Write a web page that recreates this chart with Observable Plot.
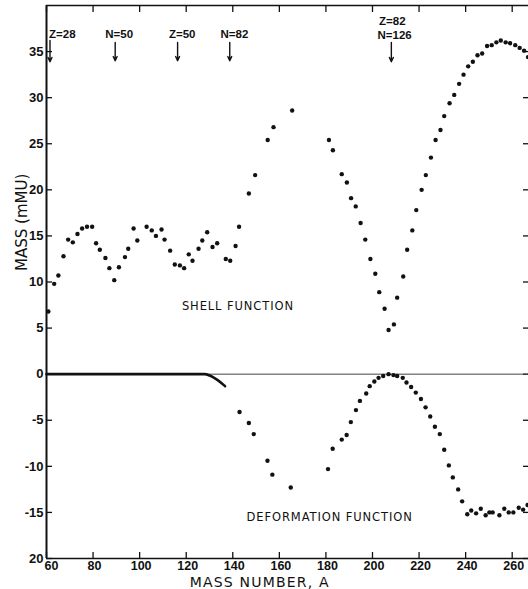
<!DOCTYPE html>
<html><head><meta charset="utf-8">
<script src="https://cdn.jsdelivr.net/npm/d3@7"></script>
<script src="https://cdn.jsdelivr.net/npm/@observablehq/plot@0.6"></script>
<style>body{margin:0;background:#fff}</style>
</head><body><div id="chart"></div>
<script>
// Shell function points (mass number A, mass in mMU)
const shellA = [60.8,63.3,65.1,67.3,69.3,71.3,73.3,75.3,77.4,79.6,81.3,82.9,85.3,87.0,89.1,91.1,93.7,95.1,97.4,99.0,103.0,105.2,107.0,109.4,110.7,113.1,115.1,117.3,119.1,121.1,122.7,125.3,126.9,129.0,131.3,133.3,137.0,138.9,141.2,142.7,146.9,149.6,155.0,157.5,165.5,181.3,183.0,186.8,189.0,190.8,192.8,194.9,196.9,199.1,201.2,202.9,205.2,206.9,209.2,210.6,213.2,214.9,217.1,218.8,221.1,222.9,225.1,227.1,229.2,230.8,233.1,235.1,237.2,239.1,241.1,243.1,245.1,247.1,249.2,251.2,253.2,255.1,257.2,259.1,261.3,263.2,265.1,266.8];
const shellM = [6.8,9.8,10.7,12.8,14.6,14.3,15.2,15.8,16.0,16.0,14.2,13.5,12.6,11.5,10.2,11.6,12.7,13.6,15.8,14.5,16.0,15.6,15.0,15.7,14.6,13.4,11.9,11.8,11.5,13.0,12.3,13.6,14.5,15.4,13.8,14.2,12.5,12.3,13.9,16.0,19.6,21.6,25.4,26.8,28.6,25.4,24.3,21.7,20.8,19.1,18.2,16.4,14.6,12.5,10.9,8.9,7.1,4.8,5.4,8.3,10.6,13.5,15.6,17.8,20.0,21.6,23.5,25.4,26.5,28.0,29.4,30.3,31.5,32.5,33.4,33.9,34.6,34.8,35.6,35.7,36.0,36.2,36.0,35.9,35.7,35.4,35.1,34.4];
// Deformation function points
const deformA = [142.9,146.9,149.0,154.9,157.0,164.9,180.9,182.9,186.8,188.9,190.7,192.9,194.6,197.3,198.8,200.8,202.6,204.6,206.9,209.0,210.6,213.0,214.6,216.6,218.6,220.8,222.8,224.8,226.8,228.9,230.8,232.8,234.5,236.8,238.5,240.7,242.4,244.5,246.5,248.6,250.2,251.6,254.5,256.6,258.5,260.5,262.8,264.7,266.6];
const deformM = [-4.1,-5.3,-6.5,-9.4,-10.9,-12.3,-10.3,-8.1,-7.1,-6.6,-5.2,-3.9,-2.9,-2.1,-1.3,-0.8,-0.4,-0.2,0.0,-0.1,-0.2,-0.4,-0.9,-1.4,-2.0,-2.7,-3.6,-4.6,-5.7,-6.5,-8.2,-9.9,-11.2,-12.5,-13.8,-15.2,-14.8,-15.1,-14.6,-15.3,-15.0,-15.0,-15.3,-14.6,-15.0,-15.0,-14.5,-14.7,-14.2];
// Solid deformation curve (spherical region)
const curveA = [60,100,128,130.6,133.5,136.7];
const curveM = [0,0,0,-0.2,-0.65,-1.3];
// Magic-number annotations
const magicText = ["Z=28","N=50","Z=50","N=82","Z=82","N=126"];
const magicTextA = [66.8,91.2,118.3,140.7,208.5,209.5];
const magicTextM = [36.9,36.9,36.9,36.9,38.3,36.8];
const arrowA = [61.5,89.5,116.3,138.7,208.1];
const arrowTop = [36.2,36.0,36.0,36.0,36.0];
const arrowBottom = [33.9,34.0,34.0,34.0,33.9];
// Curve labels
const fnText = ["SHELL FUNCTION","DEFORMATION FUNCTION"];
const fnA = [142.2,181.6];
const fnM = [7.4,-15.5];
// Ticks and axis labels
const xTicks = [60,80,100,120,140,160,180,200,220,240,260];
const yTicks = [-20,-15,-10,-5,0,5,10,15,20,25,30,35];
const xLabel = "MASS NUMBER, A";
const yLabel = "MASS (mMU)";

const shell = shellA.map((a,i)=>({a, m: shellM[i]}));
const deform = deformA.map((a,i)=>({a, m: deformM[i]}));
const curve = curveA.map((a,i)=>({a, m: curveM[i]}));
const magic = magicText.map((t,i)=>({t, a: magicTextA[i], m: magicTextM[i]}));
const arrows = arrowA.map((a,i)=>({a, y1: arrowTop[i], y2: arrowBottom[i]}));
const fns = fnText.map((t,i)=>({t, a: fnA[i], m: fnM[i]}));

const ink = "#111";
const tickFont = "Liberation Sans";
const xLabelStyle = {anchor: "bottom", tickSize: 0, tickPadding: 3, label: null, fontSize: 12.5, fontWeight: "bold", fontFamily: tickFont};
const chart = Plot.plot({
  width: 528, height: 589,
  marginLeft: 46, marginRight: 0, marginTop: 5, marginBottom: 31,
  style: {fontFamily: "DejaVu Sans", fontSize: "12px", color: ink, background: "#fff"},
  x: {domain: [60, 267]},
  y: {domain: [-20, 40]},
  marks: [
    // tick labels
    Plot.axisX({...xLabelStyle, ticks: xTicks.slice(1), dx: 1.5}),
    Plot.axisX({...xLabelStyle, ticks: xTicks.slice(0, 1), dx: 5}),
    Plot.axisY({anchor: "left", ticks: yTicks, tickSize: 0, tickPadding: 3, label: null, fontSize: 13, fontWeight: "bold", fontFamily: tickFont,
      tickFormat: d => d === -20 ? "20" : String(d)}),
    // inward tick marks on all sides
    Plot.axisX({anchor: "bottom", ticks: xTicks, tickSize: 6, dy: -6, tickFormat: () => "", label: null, strokeWidth: 1.3}),
    Plot.axisX({anchor: "top", ticks: xTicks, tickSize: 6, dy: 6, tickFormat: () => "", label: null, strokeWidth: 1.3}),
    Plot.axisY({anchor: "left", ticks: yTicks, tickSize: 6, dx: 6, tickFormat: () => "", label: null, strokeWidth: 1.3}),
    Plot.axisY({anchor: "right", ticks: yTicks, tickSize: 6, dx: -6, tickFormat: () => "", label: null, strokeWidth: 1.3}),
    // frame
    Plot.ruleX([60], {stroke: ink, strokeWidth: 2}),
    Plot.ruleY([-20], {stroke: ink, strokeWidth: 1.6}),
    Plot.ruleY([40], {stroke: ink, strokeWidth: 1.6}),
    Plot.ruleY([0], {stroke: "#444", strokeWidth: 1}),
    // data
    Plot.line(curve, {x: "a", y: "m", stroke: ink, strokeWidth: 2.6, curve: "monotone-x"}),
    Plot.dot(shell, {x: "a", y: "m", r: 2.2, fill: ink, stroke: null}),
    Plot.dot(deform, {x: "a", y: "m", r: 2.2, fill: ink, stroke: null}),
    // annotations
    Plot.arrow(arrows, {x1: "a", x2: "a", y1: "y1", y2: "y2", stroke: ink, strokeWidth: 1.4, headLength: 5, headAngle: 50}),
    Plot.text(magic, {x: "a", y: "m", text: "t", fontSize: 11.5, fontWeight: "bold", fill: ink, fontFamily: tickFont}),
    Plot.text(fns, {x: "a", y: "m", text: "t", fontSize: 11.5, fill: ink, className: "fnlabel"}),
    Plot.text([{t: yLabel, m: 11.2}], {y: "m", text: "t", frameAnchor: "left", dx: -24, rotate: -90, fontSize: 15, fill: ink}),
    Plot.text([{t: xLabel, a: 151.6}], {x: "a", text: "t", frameAnchor: "bottom", lineAnchor: "bottom", dy: 28, fontSize: 14, fill: ink, className: "xlab"})
  ]
});
document.getElementById("chart").appendChild(chart);
d3.select(chart).selectAll(".fnlabel text").style("letter-spacing", "0.9px");
d3.select(chart).selectAll(".xlab text").style("letter-spacing", "1.2px");
</script></body></html>
